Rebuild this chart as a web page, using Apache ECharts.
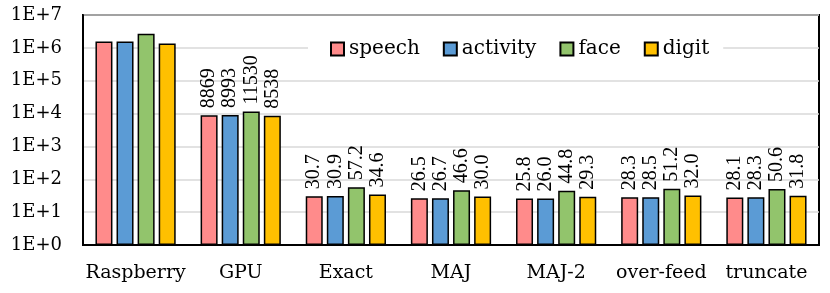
<!DOCTYPE html>
<html>
<head>
<meta charset="utf-8">
<script src="https://cdn.jsdelivr.net/npm/echarts@6/dist/echarts.min.js"></script>
<style>html,body{margin:0;padding:0;background:#fff}#c{width:830px;height:293px}</style>
</head>
<body>
<div id="c"></div>
<script>
const categories = ['Raspberry', 'GPU', 'Exact', 'MAJ', 'MAJ-2', 'over-feed', 'truncate'];
const speech   = [1550000, 8869, 30.7, 26.5, 25.8, 28.3, 28.1];
const activity = [1550000, 8993, 30.9, 26.7, 26.0, 28.5, 28.3];
const face     = [2670000, 11530, 57.2, 46.6, 44.8, 51.2, 50.6];
const digit    = [1350000, 8538, 34.6, 30.0, 29.3, 32.0, 31.8];
const seriesNames = ['speech', 'activity', 'face', 'digit'];
const seriesColors = ['#FF8B8B', '#5B9BD5', '#92C46C', '#FFC000'];
const seriesData = [speech, activity, face, digit];

const serif = '"DejaVu Serif", serif';
const labelFont = '"Liberation Serif", serif';

function fmt(v) {
  return v >= 1000 ? String(Math.round(v)) : v.toFixed(1);
}

const series = seriesNames.map((name, k) => ({
  name: name,
  type: 'bar',
  barWidth: 17,
  barGap: '24%',
  itemStyle: { color: seriesColors[k], borderColor: '#000', borderWidth: 1.5 },
  label: {
    show: true,
    position: 'top',
    rotate: 90,
    align: 'left',
    verticalAlign: 'middle',
    distance: 7,
    fontFamily: labelFont,
    fontSize: 20,
    color: '#000',
    formatter: p => fmt(p.value)
  },
  data: seriesData[k].map((v, i) => i === 0 ? { value: v, label: { show: false } } : v)
}));

const chart = echarts.init(document.getElementById('c'), null, { renderer: 'canvas' });
chart.setOption({
  animation: false,
  backgroundColor: '#fff',
  grid: {
    left: 83, right: 11, top: 15, bottom: 48,
    show: true, borderColor: '#000', borderWidth: 2, backgroundColor: 'transparent'
  },
  legend: {
    data: seriesNames,
    left: 308, top: 33,
    padding: [6, 14, 6, 22],
    backgroundColor: '#fff',
    itemWidth: 13, itemHeight: 13, itemGap: 23, itemTextGap: 7,
    icon: 'rect',
    textStyle: { fontFamily: serif, fontSize: 20, color: '#000' }
  },
  xAxis: {
    type: 'category',
    data: categories,
    axisTick: { show: false },
    axisLine: { show: true, lineStyle: { color: '#000', width: 2 } },
    axisLabel: { fontFamily: serif, fontSize: 19, color: '#000', margin: 19, interval: 0 }
  },
  yAxis: {
    type: 'log',
    logBase: 10,
    min: 1, max: 10000000,
    axisLine: { show: true, lineStyle: { color: '#000', width: 2 } },
    axisTick: { show: false },
    splitLine: { show: true, lineStyle: { color: '#D9D9D9', width: 1.5 } },
    axisLabel: {
      fontFamily: serif, fontSize: 18, color: '#000', margin: 21,
      formatter: v => '1E+' + Math.round(Math.log10(v))
    }
  },
  series: series
});
</script>
</body>
</html>
